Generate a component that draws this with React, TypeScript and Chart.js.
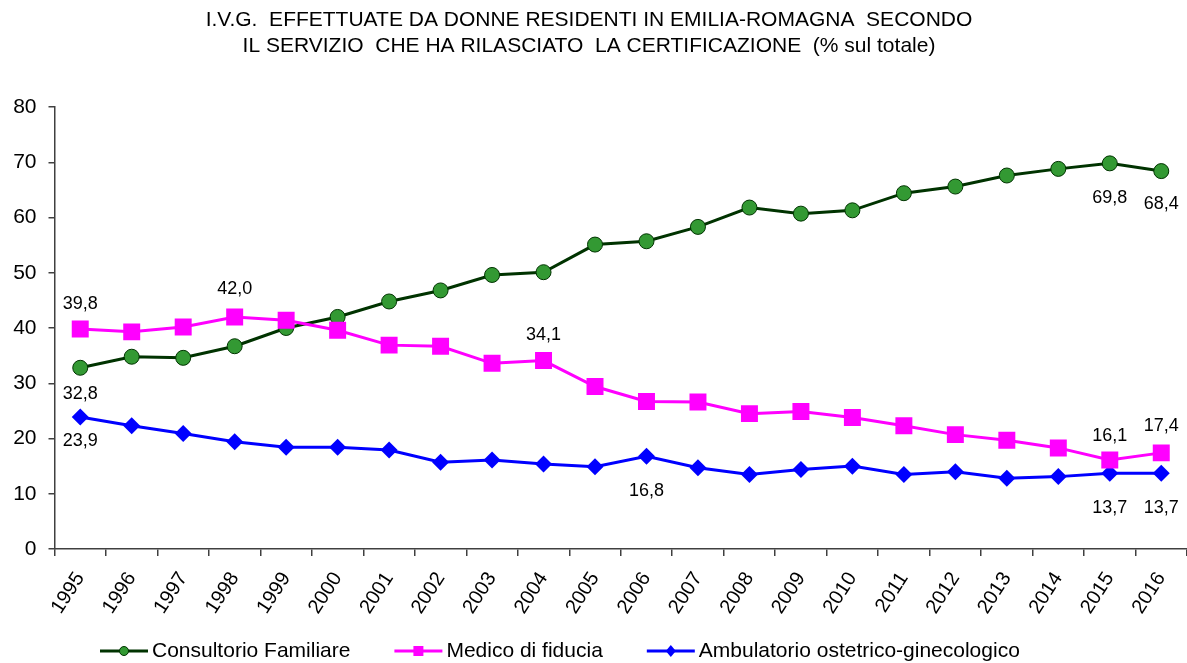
import React, { useEffect, useRef } from 'react';
import { Chart, registerables } from 'chart.js';

Chart.register(...registerables);

const FONT = "'Liberation Sans', Arial, sans-serif";

const titleLines = [
  'I.V.G.  EFFETTUATE DA DONNE RESIDENTI IN EMILIA-ROMAGNA  SECONDO',
  'IL SERVIZIO  CHE HA RILASCIATO  LA CERTIFICAZIONE  (% sul totale)',
];

const years = [
  '1995', '1996', '1997', '1998', '1999', '2000', '2001', '2002', '2003', '2004', '2005',
  '2006', '2007', '2008', '2009', '2010', '2011', '2012', '2013', '2014', '2015', '2016',
];

const consultorio = [
  32.8, 34.8, 34.6, 36.7, 40.0, 42.0, 44.8, 46.8, 49.6, 50.1, 55.1,
  55.7, 58.3, 61.8, 60.7, 61.3, 64.4, 65.6, 67.6, 68.8, 69.8, 68.4,
];

const medico = [
  39.8, 39.3, 40.2, 42.0, 41.4, 39.6, 36.9, 36.7, 33.6, 34.1, 29.4,
  26.7, 26.6, 24.5, 24.9, 23.8, 22.3, 20.7, 19.7, 18.3, 16.1, 17.4,
];

const ambulatorio = [
  23.9, 22.3, 20.9, 19.4, 18.4, 18.4, 17.9, 15.7, 16.1, 15.4, 14.9,
  16.8, 14.7, 13.5, 14.4, 15.0, 13.5, 14.0, 12.8, 13.1, 13.7, 13.7,
];

const seriesNames = ['Consultorio Familiare', 'Medico di fiducia', 'Ambulatorio ostetrico-ginecologico'];

const yTicks = [0, 10, 20, 30, 40, 50, 60, 70, 80];

// which points carry a value label: dataset index, point index, vertical offset
const pointLabels = [
  { ds: 1, i: 0, dy: -25 },
  { ds: 0, i: 0, dy: 26 },
  { ds: 2, i: 0, dy: 24 },
  { ds: 1, i: 3, dy: -28 },
  { ds: 1, i: 9, dy: -26 },
  { ds: 2, i: 11, dy: 35 },
  { ds: 0, i: 20, dy: 35 },
  { ds: 0, i: 21, dy: 33 },
  { ds: 1, i: 20, dy: -24 },
  { ds: 1, i: 21, dy: -27 },
  { ds: 2, i: 20, dy: 35 },
  { ds: 2, i: 21, dy: 35 },
];

const fmt = (v: number) => v.toFixed(1).replace('.', ',');

const titlePlugin = {
  id: 'customTitle',
  afterDraw(chart: any) {
    const ctx = chart.ctx;
    ctx.save();
    ctx.fillStyle = '#000';
    ctx.font = `21px ${FONT}`;
    ctx.textAlign = 'center';
    ctx.textBaseline = 'middle';
    titleLines.forEach((line, k) => ctx.fillText(line, 589, 20 + k * 26));
    ctx.restore();
  },
};

const labelPlugin = {
  id: 'pointLabels',
  afterDatasetsDraw(chart: any) {
    const ctx = chart.ctx;
    ctx.save();
    ctx.fillStyle = '#000';
    ctx.font = `18px ${FONT}`;
    ctx.textAlign = 'center';
    ctx.textBaseline = 'middle';
    pointLabels.forEach(({ ds, i, dy }) => {
      const el = chart.getDatasetMeta(ds).data[i];
      const v = chart.data.datasets[ds].data[i];
      ctx.fillText(fmt(v), el.x, el.y + dy);
    });
    ctx.restore();
  },
};

const legendPlugin = {
  id: 'customLegend',
  afterDraw(chart: any) {
    const ctx = chart.ctx;
    ctx.save();
    ctx.font = `21px ${FONT}`;
    ctx.textBaseline = 'middle';
    ctx.textAlign = 'left';
    const y = 651;
    let x = 100;
    chart.data.datasets.forEach((d: any) => {
      ctx.strokeStyle = d.borderColor;
      ctx.lineWidth = 3;
      ctx.beginPath();
      ctx.moveTo(x, y);
      ctx.lineTo(x + 48, y);
      ctx.stroke();
      const cx = x + 24;
      ctx.fillStyle = d.pointBackgroundColor;
      ctx.beginPath();
      if (d.pointStyle === 'circle') {
        ctx.arc(cx, y, 4.5, 0, Math.PI * 2);
        ctx.fill();
        ctx.lineWidth = 1;
        ctx.strokeStyle = d.pointBorderColor;
        ctx.stroke();
      } else if (d.pointStyle === 'rect') {
        ctx.rect(cx - 5, y - 5, 10, 10);
        ctx.fill();
      } else {
        ctx.moveTo(cx, y - 6);
        ctx.lineTo(cx + 5, y);
        ctx.lineTo(cx, y + 6);
        ctx.lineTo(cx - 5, y);
        ctx.closePath();
        ctx.fill();
      }
      ctx.fillStyle = '#000';
      ctx.fillText(d.label, x + 52, y);
      x += 52 + ctx.measureText(d.label).width + 44;
    });
    ctx.restore();
  },
};

export default function App() {
  const ref = useRef<HTMLCanvasElement | null>(null);

  useEffect(() => {
    document.body.style.margin = '0';
    const canvas = ref.current;
    if (!canvas) return;
    const axisColor = '#404040';
    const chart = new Chart(canvas, {
      type: 'line',
      data: {
        labels: years,
        datasets: [
          {
            label: seriesNames[0],
            data: consultorio,
            borderColor: '#003300',
            borderWidth: 3,
            pointStyle: 'circle',
            pointRadius: 7.5,
            pointBackgroundColor: '#339933',
            pointBorderColor: '#003300',
            pointBorderWidth: 1,
            tension: 0,
            order: 1,
          },
          {
            label: seriesNames[1],
            data: medico,
            borderColor: '#FF00FF',
            borderWidth: 3,
            pointStyle: 'rect',
            pointRadius: 12,
            pointBackgroundColor: '#FF00FF',
            pointBorderColor: '#FF00FF',
            pointBorderWidth: 0,
            tension: 0,
            order: 0,
          },
          {
            label: seriesNames[2],
            data: ambulatorio,
            borderColor: '#0000FF',
            borderWidth: 3,
            pointStyle: 'rectRot',
            pointRadius: 8.5,
            pointBackgroundColor: '#0000FF',
            pointBorderColor: '#0000FF',
            pointBorderWidth: 0,
            tension: 0,
            order: 2,
          },
        ] as any,
      },
      options: {
        animation: false,
        responsive: true,
        maintainAspectRatio: false,
        layout: { autoPadding: false, padding: { top: 107, left: 0, right: -2, bottom: 0 } },
        plugins: {
          legend: { display: false },
          title: { display: false },
          tooltip: { enabled: false },
        },
        scales: {
          x: {
            offset: true,
            grid: {
              offset: true,
              drawOnChartArea: false,
              drawTicks: true,
              tickLength: 7,
              color: axisColor,
              lineWidth: 1.5,
            },
            border: { color: axisColor, width: 1.5 },
            ticks: {
              color: '#000',
              font: { size: 20, family: FONT },
              minRotation: 57,
              maxRotation: 57,
              autoSkip: false,
              padding: 12,
            },
            afterFit: (s: any) => {
              s.height = 114;
              s.paddingLeft = 0;
              s.paddingRight = -2;
            },
          },
          y: {
            min: 0,
            max: 80,
            afterBuildTicks: (s: any) => {
              s.ticks = yTicks.map((v) => ({ value: v }));
            },
            grid: {
              drawOnChartArea: false,
              drawTicks: true,
              tickLength: 6,
              color: axisColor,
              lineWidth: 1.5,
            },
            border: { color: axisColor, width: 1.5 },
            ticks: {
              color: '#000',
              font: { size: 21, family: FONT },
              padding: 12,
            },
            afterFit: (s: any) => {
              s.width = 54.5;
            },
          },
        } as any,
      },
      plugins: [titlePlugin, labelPlugin, legendPlugin],
    });
    return () => chart.destroy();
  }, []);

  return (
    <div style={{ width: 1187, height: 663, position: 'relative' }}>
      <canvas ref={ref} />
    </div>
  );
}
